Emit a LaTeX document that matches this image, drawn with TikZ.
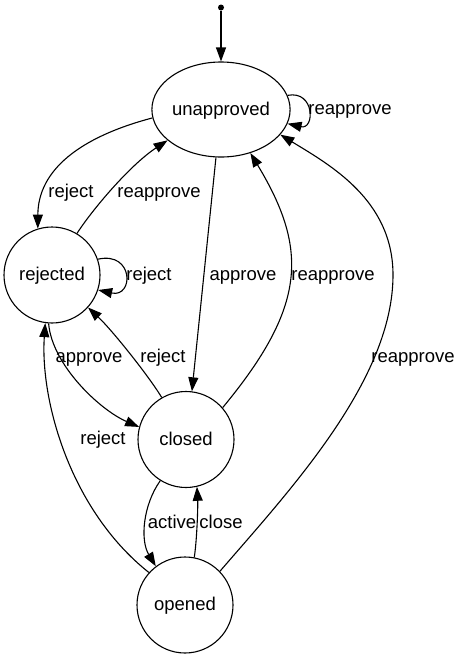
\documentclass[tikz,border=0pt]{standalone}
\usepackage{fontspec}
\setmainfont{Liberation Sans}
\usetikzlibrary{arrows.meta,shapes.geometric}
\begin{document}
\begin{tikzpicture}[x=1pt,y=-1pt,
  every node/.style={font=\fontsize{18.5}{22}\selectfont, inner sep=0pt, text height=14pt, text depth=3pt},
  state/.style={draw, circle, line width=1.1pt, minimum size=96pt},
  ustate/.style={draw, ellipse, line width=1.1pt, minimum width=126pt, minimum height=95pt},
  edge/.style={line width=1.1pt, -{Triangle[length=14pt,width=10pt]}},
  lbl/.style={}]
\useasboundingbox (0,0) rectangle (463,659);
\node[circle, fill, minimum size=6pt, text height=, text depth=] (start) at (221,7.5) {};
\node[ustate] (un) at (221,109.5) {unapproved};
\node[state] (rej) at (52,275) {rejected};
\node[state] (cl) at (186,439.5) {closed};
\node[state] (op) at (185,605) {opened};

\draw[edge] (start) -- (un.north);
\draw[edge] (un.12) .. controls (315,90) and (315,130) .. (un.-12);
\node[lbl] (l1) at (350,109) {reapprove};
\draw[edge] (rej.19) .. controls (134,251) and (134,298) .. (rej.-18);
\node[lbl] (l2) at (149,275) {reject};

\draw[edge] (un.187) .. controls (80,137) and (38,170) .. (rej.107);
\node[lbl] (l3) at (71,192) {reject};
\draw[edge] (rej.59) .. controls (92,210) and (130,165) .. (un.210);
\node[lbl] (l4) at (159,192) {reapprove};
\draw[edge] (un.-96) -- (cl.83);
\node[lbl] (l5) at (243,275) {approve};
\draw[edge] (cl.41) .. controls (306,307) and (309,250) .. (un.-56);
\node[lbl] (l6) at (333,275) {reapprove};
\draw[edge] (op.44) .. controls (290,490) and (393,380) .. (393,275) .. controls (393,200) and (330,165) .. (un.-23);
\node[lbl] (l7) at (413,357) {reapprove};

\draw[edge] (rej.-94) .. controls (52,365) and (100,410) .. (cl.165);
\node[lbl] (l8) at (89,357) {approve};
\draw[edge] (cl.120) .. controls (148,375) and (112,330) .. (rej.-42);
\node[lbl] (l9) at (163,357) {reject};
\draw[edge] (op.138) .. controls (70,510) and (40,400) .. (rej.-98);
\node[lbl] (l10) at (103,439) {reject};
\draw[edge] (cl.-122) .. controls (143,505) and (140,540) .. (op.127);
\node[lbl] (l11) at (172,523) {active};
\draw[edge] (op.79) .. controls (197,540) and (198,505) .. (cl.-77);
\node[lbl] (l12) at (221,523) {close};
\end{tikzpicture}
\end{document}
